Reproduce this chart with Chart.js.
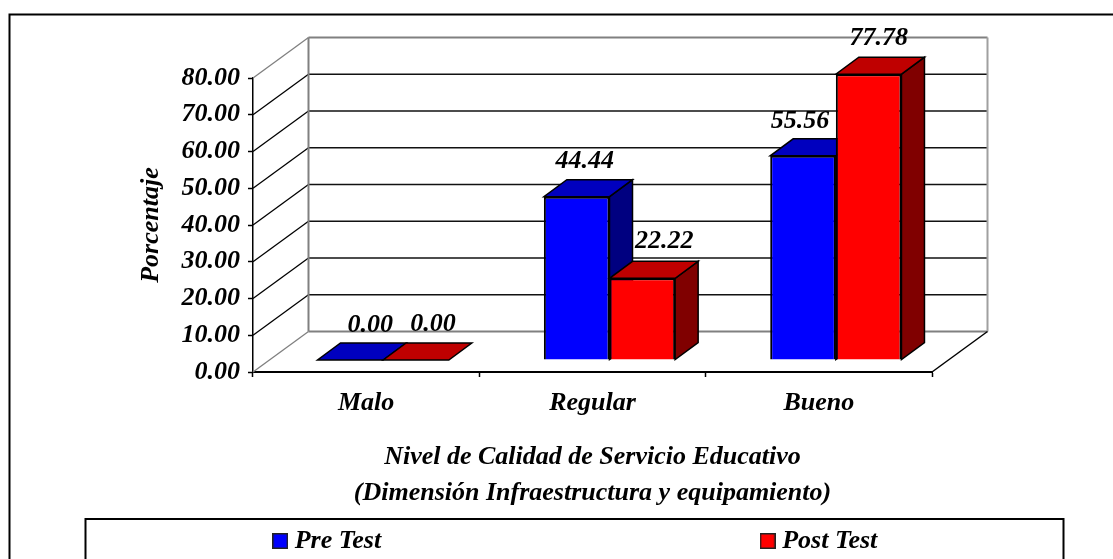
<!DOCTYPE html>
<html>
<head>
<meta charset="utf-8">
<style>
  html, body { margin: 0; padding: 0; background: #fff; }
  canvas { display: block; }
</style>
<script src="https://cdn.jsdelivr.net/npm/chart.js@4/dist/chart.umd.min.js"></script>
</head>
<body>
<canvas id="grafico" width="1113" height="559"></canvas>
<script>
const categorias = ['Malo', 'Regular', 'Bueno'];
const preTest = [0.00, 44.44, 55.56];
const postTest = [0.00, 22.22, 77.78];

// ajuste manual de cada etiqueta respecto al centro superior de la barra
const ajustePre = [[20, -35], [8, -35], [-3, -35]];
const ajustePost = [[17, -36], [22, -37], [10, -36]];

const FUENTE = '"Liberation Serif", "Times New Roman", serif';
const fuente = { family: FUENTE, size: 26, weight: 'bold', style: 'italic' };

// profundidad de la pared y de las barras
const PARED = { x: 55.5, y: -40.5 };
const DESPLAZA = { x: 17, y: -12 };
const FONDO = { x: 23, y: -17 };
const GRIS = '#808080';

function linea(ctx, x1, y1, x2, y2, color, ancho) {
    ctx.beginPath();
    ctx.moveTo(x1, y1);
    ctx.lineTo(x2, y2);
    ctx.strokeStyle = color;
    ctx.lineWidth = ancho;
    ctx.stroke();
}

function cara(ctx, puntos, color) {
    ctx.beginPath();
    puntos.forEach((p, i) => i ? ctx.lineTo(p[0], p[1]) : ctx.moveTo(p[0], p[1]));
    ctx.closePath();
    ctx.fillStyle = color;
    ctx.fill();
    ctx.strokeStyle = '#000';
    ctx.lineWidth = 1.5;
    ctx.stroke();
}

function muestra(color) {
    const c = document.createElement('canvas');
    c.width = 16;
    c.height = 16;
    const g = c.getContext('2d');
    g.fillStyle = color;
    g.fillRect(0, 0, 16, 16);
    g.strokeStyle = '#222';
    g.lineWidth = 1.5;
    g.strokeRect(0.75, 0.75, 14.5, 14.5);
    return c;
}

const plugin3d = {
    id: 'plugin3d',
    afterLayout(chart) {
        // la leyenda va en su recuadro, no en el ancho del area
        const ley = chart.legend;
        ley.left = 93;
        ley.right = 1063;
        ley.top = 520;
        ley.bottom = 559;
        ley.adjustHitBoxes();
    },
    beforeDraw(chart) {
        const ctx = chart.ctx;
        ctx.save();
        ctx.fillStyle = '#fff';
        ctx.fillRect(0, 0, chart.width, chart.height);
        ctx.strokeStyle = '#000';
        ctx.lineWidth = 2;
        ctx.strokeRect(9.5, 14.5, 1200, 600);
        ctx.strokeRect(85.5, 519, 978, 60);
        ctx.restore();
    },
    beforeDatasetsDraw(chart) {
        const ctx = chart.ctx;
        const { left, right } = chart.chartArea;
        const y = chart.scales.y;
        const dx = PARED.x, dy = PARED.y;
        ctx.save();
        y.ticks.forEach((t, i) => {
            const py = y.getPixelForValue(t.value);
            const borde = i === 0 || i === y.ticks.length - 1;
            linea(ctx, left, py, left + dx, py + dy, borde ? GRIS : '#000', 1.3);
            linea(ctx, left + dx, py + dy, right + dx, py + dy, borde ? GRIS : '#111', borde ? 2 : 1.5);
        });
        const arriba = y.getPixelForValue(y.max) + dy;
        const abajo = y.getPixelForValue(0) + dy;
        linea(ctx, left + dx, arriba, left + dx, abajo, GRIS, 2);
        linea(ctx, right + dx, arriba, right + dx, abajo, '#a0a0a0', 2);
        linea(ctx, right, abajo - dy, right + dx, abajo, '#000', 1.5);
        ctx.restore();

        // Pre Test primero y Post Test encima, al reves de lo que hace Chart.js
        chart.getSortedVisibleDatasetMetas().forEach(meta => {
            const ds = chart.data.datasets[meta.index];
            ctx.save();
            ctx.translate(DESPLAZA.x, DESPLAZA.y);
            meta.data.forEach(bar => {
                const l = bar.x - bar.width / 2;
                const r = bar.x + bar.width / 2;
                const t = bar.y;
                const b = bar.base;
                if (b - t > 0.5) {
                    cara(ctx, [[r, t], [r + FONDO.x, t + FONDO.y], [r + FONDO.x, b + FONDO.y], [r, b]], ds.colorLado);
                }
                cara(ctx, [[l, t], [r, t], [r + FONDO.x, t + FONDO.y], [l + FONDO.x, t + FONDO.y]], ds.colorTapa);
            });
            meta.controller.draw();
            ctx.restore();
        });
    },
    beforeDatasetDraw() {
        return false;
    },
    afterDatasetsDraw(chart) {
        const ctx = chart.ctx;
        ctx.save();
        ctx.font = 'italic bold 26px ' + FUENTE;
        ctx.fillStyle = '#000';
        ctx.textAlign = 'center';
        ctx.textBaseline = 'middle';
        chart.data.datasets.forEach((ds, d) => {
            chart.getDatasetMeta(d).data.forEach((bar, i) => {
                const a = ds.ajuste[i];
                ctx.fillText(ds.data[i].toFixed(2), bar.x + DESPLAZA.x + a[0], bar.y + DESPLAZA.y + a[1]);
            });
        });
        ctx.restore();
    }
};

new Chart(document.getElementById('grafico'), {
    type: 'bar',
    plugins: [plugin3d],
    data: {
        labels: categorias,
        datasets: [
            { label: 'Pre Test', data: preTest, backgroundColor: '#0000ff', borderColor: '#000', borderWidth: 2,
              colorTapa: '#0000bf', colorLado: '#000080', ajuste: ajustePre,
              categoryPercentage: 0.58, barPercentage: 1 },
            { label: 'Post Test', data: postTest, backgroundColor: '#ff0000', borderColor: '#000', borderWidth: 2,
              colorTapa: '#bf0000', colorLado: '#800000', ajuste: ajustePost,
              categoryPercentage: 0.58, barPercentage: 1 }
        ]
    },
    options: {
        responsive: false,
        animation: false,
        layout: { padding: { left: 0, top: 78, right: 181, bottom: 0 } },
        plugins: {
            tooltip: { enabled: false },
            legend: {
                position: 'bottom',
                labels: {
                    font: fuente,
                    color: '#000',
                    padding: 8,
                    usePointStyle: true,
                    pointStyleWidth: 3,
                    generateLabels(chart) {
                        return chart.data.datasets.map((ds, i) => ({
                            // espacios duros para separar las dos entradas
                            text: i === 0 ? ds.label + '\u00A0'.repeat(58) : ds.label,
                            pointStyle: muestra(ds.backgroundColor),
                            datasetIndex: i,
                            lineWidth: 0
                        }));
                    }
                }
            }
        },
        scales: {
            x: {
                afterFit(s) { s.height = 143; },
                grid: { drawOnChartArea: false, drawTicks: true, tickLength: 5, tickColor: '#000', tickWidth: 1.5, offset: true },
                border: { color: '#000', width: 2 },
                ticks: { font: fuente, color: '#000', padding: 11, maxRotation: 0 },
                title: {
                    display: true,
                    text: ['Nivel de Calidad de Servicio Educativo', '(Dimensión Infraestructura y equipamiento)'],
                    font: { ...fuente, lineHeight: 1.385 },
                    color: '#000',
                    padding: { top: 0, bottom: 4 }
                }
            },
            y: {
                min: 0,
                max: 80,
                afterFit(s) { s.width = 253; },
                grid: { drawOnChartArea: false, drawTicks: true, tickLength: 5, tickColor: '#000', tickWidth: 1.5 },
                border: { color: '#000', width: 1.5 },
                ticks: { font: fuente, color: '#000', stepSize: 10, padding: 8, callback: v => v.toFixed(2) },
                title: {
                    display: true,
                    text: 'Porcentaje',
                    font: fuente,
                    color: '#000',
                    padding: { top: 136, bottom: 0 }
                }
            }
        }
    }
});
</script>
</body>
</html>
